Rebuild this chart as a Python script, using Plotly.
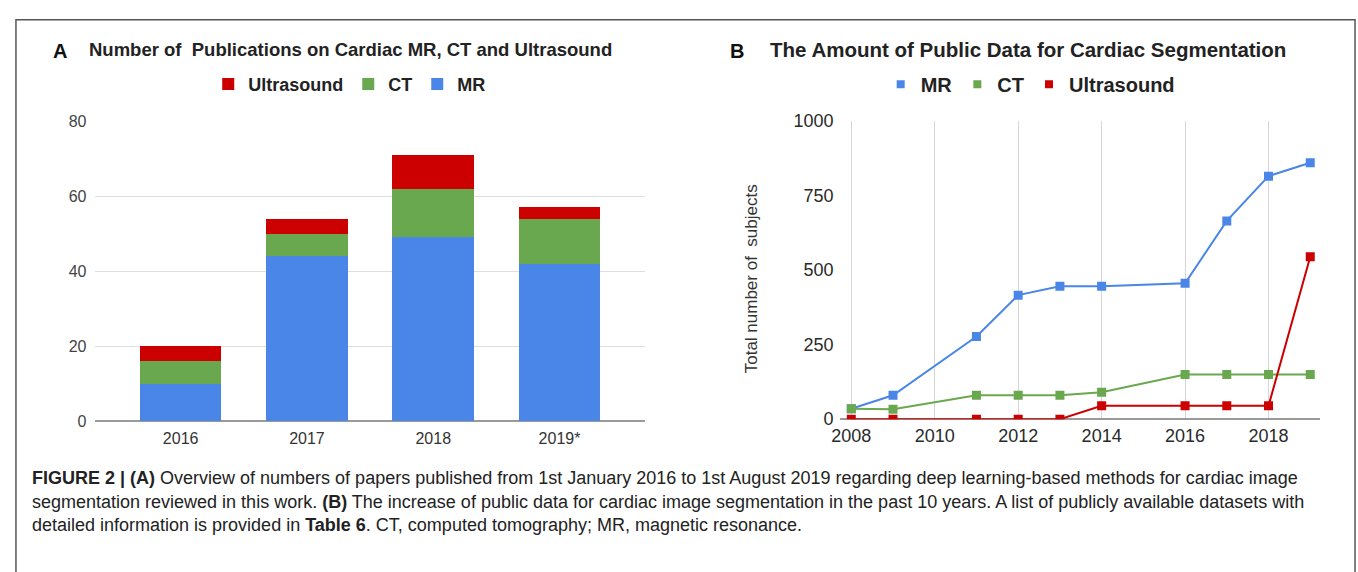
import plotly.graph_objects as go

# ---------------- Data: Panel A ----------------
pub_years = ["2016", "2017", "2018", "2019*"]
pub_mr = [10, 44, 49, 42]
pub_ct = [6, 6, 13, 12]
pub_us = [4, 4, 9, 3]

# ---------------- Data: Panel B ----------------
data_years = [2008, 2009, 2011, 2012, 2013, 2014, 2016, 2017, 2018, 2019]
data_mr = [35, 80, 277, 416, 446, 446, 456, 665, 815, 860]
data_ct = [35, 33, 80, 80, 80, 90, 150, 150, 150, 150]
data_us = [0, 0, 0, 0, 0, 45, 45, 45, 45, 545]

W, H = 1358, 572
BLUE, GREEN, RED = "#4a86e8", "#6aa84f", "#cc0000"
FONT = "Liberation Sans, Arial, sans-serif"


def px(x):
    return x / W


def py(y):
    return 1 - y / H


fig = go.Figure()

# Panel A stacked bars (bottom to top: MR, CT, Ultrasound)
for name, vals, col in [("MR", pub_mr, BLUE), ("CT", pub_ct, GREEN), ("Ultrasound", pub_us, RED)]:
    fig.add_trace(go.Bar(x=pub_years, y=vals, name=name, marker=dict(color=col, line=dict(width=0)),
                         xaxis="x", yaxis="y", legend="legend", hoverinfo="x+y+name"))

# Panel B lines
for name, vals, col in [("MR", data_mr, BLUE), ("CT", data_ct, GREEN), ("Ultrasound", data_us, RED)]:
    fig.add_trace(go.Scatter(x=data_years, y=vals, name=name, mode="lines+markers",
                             line=dict(color=col, width=2),
                             marker=dict(symbol="square", size=9, color=col),
                             xaxis="x2", yaxis="y2", showlegend=False, legendgroup="b" + name))
    # legend entry (square only)
    fig.add_trace(go.Scatter(x=[None], y=[None], name=name, mode="markers",
                             marker=dict(symbol="square", size=8, color=col),
                             xaxis="x2", yaxis="y2", legend="legend2", legendgroup="b" + name))

layout = dict(
    width=W, height=H, autosize=False,
    margin=dict(l=0, r=0, t=0, b=0),
    paper_bgcolor="white", plot_bgcolor="white",
    font=dict(family=FONT, color="#333"),
    barmode="stack", bargap=0.354,
    showlegend=True,
    xaxis=dict(domain=[px(87), px(640)], range=[-0.675, 3.675], type="category",
               showgrid=False, showline=False, ticks="", tickfont=dict(size=16, color="#333"),
               ticklabelstandoff=6, anchor="y", fixedrange=True),
    yaxis=dict(domain=[py(426), py(115)], range=[0, 80], tickvals=[0, 20, 40, 60, 80],
               showgrid=True, gridcolor="#dedede", gridwidth=1,
               zeroline=True, zerolinecolor="#9a9a9a", zerolinewidth=2,
               showline=False, ticks="", tickfont=dict(size=16, color="#444"),
               ticklabelstandoff=8, anchor="x", fixedrange=True),
    xaxis2=dict(domain=[px(837), px(1320)], range=[2007.74, 2019.24], tickvals=[2008, 2010, 2012, 2014, 2016, 2018],
                showgrid=True, gridcolor="#d6d6d6", gridwidth=1, zeroline=False,
                showline=False, ticks="", tickfont=dict(size=18, color="#2a2a2a"),
                ticklabelstandoff=4, anchor="y2", fixedrange=True),
    yaxis2=dict(domain=[py(424), py(115)], range=[0, 1000], tickvals=[0, 250, 500, 750, 1000],
                showgrid=False, zeroline=True, zerolinecolor="#9a9a9a", zerolinewidth=2,
                showline=False, ticks="", tickfont=dict(size=18, color="#2a2a2a"),
                ticklabelstandoff=6, anchor="x2", fixedrange=True),
    legend=dict(orientation="h", x=px(343), y=py(77), xanchor="center", yanchor="middle",
                traceorder="reversed", font=dict(size=18, color="#222", family=FONT, weight="bold"),
                bgcolor="rgba(0,0,0,0)", itemclick=False, itemdoubleclick=False),
    legend2=dict(orientation="h", x=px(1028), y=py(77), xanchor="center", yanchor="middle",
                 font=dict(size=20, color="#222", family=FONT, weight="bold"),
                 bgcolor="rgba(0,0,0,0)", itemclick=False, itemdoubleclick=False),
)
fig.update_layout(**layout)

annotations = [
    dict(text="<b>A</b>", x=px(42), y=py(42), xanchor="left", yanchor="middle", font=dict(size=20, color="#111")),
    dict(text="<b>Number of  Publications on Cardiac MR, CT and Ultrasound</b>", x=px(79), y=py(41),
         xanchor="left", yanchor="middle", font=dict(size=18.5, color="#222")),
    dict(text="<b>B</b>", x=px(724), y=py(42), xanchor="left", yanchor="middle", font=dict(size=20, color="#111")),
    dict(text="<b>The Amount of Public Data for Cardiac Segmentation</b>", x=px(764), y=py(41),
         xanchor="left", yanchor="middle", font=dict(size=20.5, color="#222")),
    dict(text="Total number of  subjects", x=px(747), y=py(279), xanchor="center", yanchor="middle",
         textangle=-90, font=dict(size=17, color="#333")),
    dict(text="<b>FIGURE 2 | (A)</b> Overview of numbers of papers published from 1st January 2016 to 1st August 2019 regarding deep learning-based methods for cardiac image",
         x=px(21), y=py(485), xanchor="left", yanchor="middle", font=dict(size=18, color="#222")),
    dict(text="segmentation reviewed in this work. <b>(B)</b> The increase of public data for cardiac image segmentation in the past 10 years. A list of publicly available datasets with",
         x=px(21), y=py(510), xanchor="left", yanchor="middle", font=dict(size=18, color="#222")),
    dict(text="detailed information is provided in <b>Table 6</b>. CT, computed tomography; MR, magnetic resonance.",
         x=px(21), y=py(534), xanchor="left", yanchor="middle", font=dict(size=18, color="#222")),
]
for a in annotations:
    a.update(xref="paper", yref="paper", showarrow=False)
fig.update_layout(annotations=annotations)

fig.add_shape(type="rect", xref="paper", yref="paper", x0=px(7), x1=px(1355), y0=-0.2, y1=py(10),
              line=dict(color="#555", width=1.5), fillcolor="rgba(0,0,0,0)", layer="above")

# Remove the default body margin right away (runs synchronously while the page loads)
RESET_MARGIN = "}); document.body.style.margin = '0'; document.body.style.overflow = 'hidden'; (function(){"

fig.write_html("out.html", config={"displayModeBar": False}, post_script=RESET_MARGIN)
